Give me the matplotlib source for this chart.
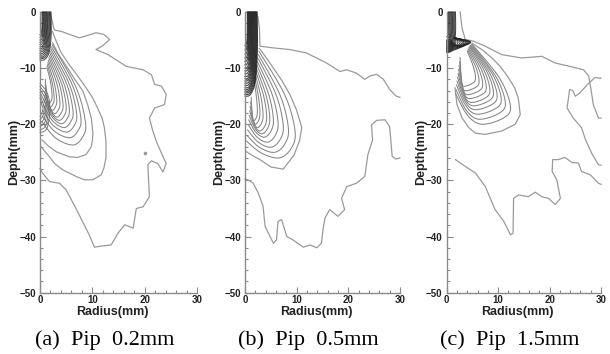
import numpy as np
import matplotlib
matplotlib.use("Agg")
import matplotlib.pyplot as plt
from matplotlib.ticker import MultipleLocator

# ---------------- data (radius in mm, depth in mm) ----------------
captions = ["(a)  Pip  0.2mm", "(b)  Pip  0.5mm", "(c)  Pip  1.5mm"]

# Panel (a): outermost contour
a_edge_r = [1.9, 2.3, 2.7, 4.2, 5.6, 7.5, 9.0, 10.7, 12.2, 13.3, 12.0, 10.7, 13.0, 16.5, 19.7,
            21.3, 21.9, 23.2, 24.1, 23.8, 21.9, 20.9, 21.5, 22.2, 22.9, 24.1, 23.5, 22.5, 21.3,
            20.6, 20.9, 19.7, 18.4, 17.8, 16.2, 14.9, 13.6, 11.7, 10.4, 9.4, 7.2, 5.0, 3.7, 1.8,
            0.5, 0.0]
a_edge_d = [0.0, -1.5, -3.2, -3.5, -4.0, -4.6, -4.2, -3.7, -4.0, -4.9, -6.0, -6.7, -7.6, -9.7,
            -10.3, -11.2, -12.9, -13.2, -14.7, -16.5, -17.1, -18.9, -21.0, -23.0, -24.5, -27.0,
            -28.5, -27.0, -26.5, -27.2, -32.9, -34.7, -35.0, -38.5, -37.9, -39.4, -41.5, -41.7,
            -41.9, -39.7, -35.6, -31.7, -30.5, -30.2, -28.7, -27.9]
a_spot_r = [20.1]
a_spot_d = [-25.2]
# Panel (a): two outer plume contours
a_p1_r = [2.4, 3.0, 4.0, 5.6, 7.2, 8.8, 10.0, 11.0, 11.9, 12.3, 12.6, 12.6, 12.2, 11.7, 10.1,
          8.5, 6.9, 4.3, 2.8, 1.8, 0.9, 0.2]
a_p1_d = [-3.5, -5.0, -7.2, -9.4, -11.4, -13.5, -15.2, -17.1, -19.0, -20.6, -23.0, -26.0, -27.8,
          -29.0, -29.9, -29.9, -29.3, -28.1, -27.0, -25.8, -24.8, -24.0]
a_p2_r = [2.4, 3.5, 5.0, 6.5, 8.2, 9.1, 9.8, 10.1, 10.0, 9.8, 8.8, 7.2, 5.6, 3.1, 1.5, 0.4]
a_p2_d = [-5.5, -7.5, -9.6, -11.8, -14.1, -16.5, -18.9, -21.5, -23.0, -24.0, -25.4, -25.9,
          -25.8, -24.9, -23.8, -22.8]
# Panel (a): inner plume contours (tip, widest radius, bottom depth, axis end)
a_in_right = [8.7, 7.8, 7.0, 6.3, 5.6, 5.0, 4.4, 3.8, 3.2, 2.7, 2.3]
a_in_bottom = [-23.7, -22.4, -21.4, -20.6, -19.9, -19.3, -18.7, -18.1, -17.5, -16.9, -16.3]
a_in_tip_r = [2.3, 2.2, 2.1, 2.0, 1.9, 1.8, 1.7, 1.6, 1.5, 1.4, 1.3]
a_in_tip_d = [-5.8, -6.2, -6.6, -7.0, -7.4, -7.8, -8.2, -8.6, -9.0, -9.4, -9.8]
a_in_end_r = [0.3, 0.4, 0.5, 0.6, 0.7, 0.8, 0.9, 1.0, 1.0, 1.0, 1.0]
a_in_end_d = [-19.5, -18.5, -17.5, -16.5, -15.5, -14.8, -14.2, -13.6, -13.0, -12.5, -12.0]
# Panel (a): near-tip contours and the lower cluster along the axis
a_cap_w = [2.1, 1.95, 1.8, 1.65, 1.5, 1.38, 1.25, 1.12, 1.0, 0.88, 0.75, 0.62, 0.5, 0.38]
a_cap_d = [-8.6, -8.3, -8.0, -7.7, -7.4, -7.1, -6.8, -6.5, -6.2, -5.8, -5.4, -5.0, -4.5, -4.0]
a_low_w = [1.9, 1.6, 1.35, 1.1, 0.85, 0.6]
a_low_top = [-12.8, -13.3, -13.8, -14.3, -14.8, -15.3]
a_low_bot = [-21.5, -21.0, -20.4, -19.8, -19.2, -18.6]

# Panel (b)
b_edge1_r = [1.9, 2.5, 2.8, 2.9, 5.5, 8.7, 11.9, 15.8, 18.4, 19.7, 21.6, 23.2, 24.2, 25.5,
             26.8, 28.0, 29.3, 30.0]
b_edge1_d = [0.0, -0.8, -3.0, -6.1, -6.4, -6.7, -7.3, -9.1, -10.6, -10.3, -10.9, -12.0, -11.4,
             -11.1, -12.0, -13.8, -15.0, -15.2]
b_edge2_r = [30.0, 29.2, 28.5, 28.3, 28.0, 27.1, 25.5, 24.5, 24.7, 23.8, 23.2, 21.6, 19.7, 18.7,
             19.3, 18.0, 16.4, 15.5, 15.1, 14.8, 13.9, 12.6, 11.3, 9.3, 8.1, 7.1, 6.4, 6.1, 5.5,
             3.9, 3.5, 2.6, 1.6, 0.6, 0.0]
b_edge2_d = [-26.0, -26.2, -25.7, -23.5, -20.4, -19.2, -19.3, -20.1, -22.8, -25.4, -29.3, -30.5,
             -31.1, -33.2, -35.2, -36.4, -35.2, -36.7, -38.8, -41.2, -42.0, -41.5, -41.9, -40.6,
             -40.0, -37.0, -37.3, -40.6, -41.2, -38.2, -34.6, -32.3, -30.5, -29.9, -29.8]
b_p1_r = [2.8, 4.0, 5.5, 7.2, 8.7, 10.0, 11.0, 10.6, 9.5, 7.4, 5.0, 2.9, 1.5, 0.3]
b_p1_d = [-6.5, -8.0, -10.0, -12.3, -14.7, -17.5, -20.6, -22.8, -25.5, -28.0, -27.6, -26.3,
          -25.6, -24.9]
b_in_right = [9.7, 8.4, 7.4, 6.4, 5.5, 4.8, 4.2, 3.5, 2.9, 2.4]
b_in_bottom = [-26.0, -25.0, -24.1, -23.2, -22.3, -21.7, -21.2, -20.6, -20.0, -19.4]
b_in_tip_r = [2.7, 2.6, 2.5, 2.4, 2.3, 2.2, 2.1, 2.0, 1.9, 1.8]
b_in_tip_d = [-7.0, -7.6, -8.2, -8.8, -9.4, -10.0, -10.6, -11.2, -11.8, -12.4]
b_in_end_r = [0.3, 0.4, 0.5, 0.6, 0.7, 0.8, 0.9, 1.0, 1.1, 1.2]
b_in_end_d = [-23.0, -22.0, -21.0, -20.0, -19.2, -18.4, -17.6, -16.8, -16.0, -15.2]
b_cap_w = [2.35, 2.25, 2.15, 2.05, 1.95, 1.85, 1.75, 1.65, 1.55, 1.45, 1.35, 1.25, 1.15, 1.05,
           0.95, 0.85, 0.75, 0.65, 0.55, 0.45]
b_cap_d = [-15.0, -14.7, -14.4, -14.1, -13.8, -13.5, -13.1, -12.7, -12.3, -11.9, -11.5, -11.0,
           -10.5, -10.0, -9.4, -8.8, -8.2, -7.5, -6.8, -6.0]

# Panel (c)
c_edge1_r = [2.6, 3.0, 3.6, 5.2, 7.5, 10.7, 14.6, 18.5, 21.1, 24.0, 26.6, 27.6, 28.0, 28.5,
             29.5, 30.0]
c_edge1_d = [0.0, -2.9, -4.9, -5.2, -6.1, -7.6, -8.2, -7.9, -9.1, -9.7, -10.3, -11.4, -13.5,
             -16.5, -18.9, -18.9]
c_edge2_r = [30.0, 28.8, 27.5, 25.9, 25.0, 24.5, 23.9, 23.4, 24.6, 26.2, 27.0, 28.2, 29.5, 30.0]
c_edge2_d = [-11.8, -11.7, -12.8, -14.4, -15.0, -14.0, -13.8, -17.1, -18.9, -20.6, -22.8,
             -25.2, -27.2, -27.3]
c_edge3_r = [1.7, 3.6, 5.6, 7.5, 9.4, 11.1, 12.4, 12.9, 13.0, 14.0, 15.9, 17.2, 18.5, 19.8,
             21.1, 22.1, 21.4, 20.5, 20.6, 21.7, 23.0, 24.3, 25.6, 26.2, 27.9, 29.5, 30.0]
c_edge3_d = [-26.3, -27.5, -28.7, -31.1, -35.2, -37.3, -39.7, -39.4, -33.2, -32.6, -32.9,
             -32.1, -32.9, -33.2, -34.3, -33.2, -29.9, -28.4, -26.3, -26.3, -25.9, -26.8,
             -26.9, -28.4, -29.0, -30.5, -30.7]
c_p1_r = [5.0, 7.0, 8.8, 10.5, 12.0, 13.2, 13.9, 14.3, 13.3, 10.7, 7.5, 5.6, 4.3, 3.0, 2.0, 1.6]
c_p1_d = [-5.6, -6.8, -8.2, -9.8, -11.7, -13.5, -15.3, -18.3, -20.0, -21.2, -21.8, -21.6,
          -20.6, -18.9, -16.5, -13.5]
c_in_right = [12.4, 11.4, 10.6, 9.8, 9.1, 8.4, 7.7, 7.0, 6.3, 5.6]
c_in_bottom = [-20.0, -19.1, -18.2, -17.4, -16.7, -16.1, -15.4, -14.7, -14.0, -13.2]
c_in_tip_r = [4.9, 4.8, 4.7, 4.6, 4.5, 4.4, 4.3, 4.2, 4.1, 4.0]
c_in_tip_d = [-5.7, -5.8, -5.9, -6.0, -6.1, -6.2, -6.4, -6.6, -6.8, -7.0]
c_in_end_r = [1.7, 1.8, 1.9, 2.0, 2.1, 2.2, 2.3, 2.4, 2.5, 2.6]
c_in_end_d = [-14.5, -13.8, -13.0, -12.3, -11.6, -10.9, -10.2, -9.5, -8.8, -8.1]
c_cap_w = [1.7, 1.55, 1.4, 1.25, 1.1, 0.95, 0.8, 0.65, 0.5, 0.35]
c_cap_d = [-7.2, -7.0, -6.8, -6.6, -6.4, -6.2, -5.9, -5.5, -5.0, -4.4]
c_band_r = [4.6, 4.45, 4.3, 4.1, 3.9, 3.6, 3.3, 3.0, 2.6, 2.2, 1.8]
c_band_d = [-7.1, -6.9, -6.7, -6.5, -6.3, -6.1, -5.9, -5.7, -5.5, -5.3, -5.1]

x_ticks = [0, 10, 20, 30]
y_ticks = [0, -10, -20, -30, -40, -50]

# ---------------- drawing helpers ----------------
LINE = "#9a9a9a"
INNER = "#858585"
CORE = "#262626"


def smooth(pts, n=10):
    """Catmull-Rom curve through the given control points."""
    p = np.asarray(pts, float)
    p = np.vstack([p[0], p, p[-1]])
    t = np.linspace(0, 1, n, endpoint=False)[:, None]
    segs = []
    for i in range(1, len(p) - 2):
        p0, p1, p2, p3 = p[i - 1], p[i], p[i + 1], p[i + 2]
        segs.append(0.5 * (2 * p1 + (-p0 + p2) * t + (2 * p0 - 5 * p1 + 4 * p2 - p3) * t ** 2
                           + (-p0 + 3 * p1 - 3 * p2 + p3) * t ** 3))
    segs.append(p[-2][None, :])
    return np.vstack(segs)


def plume(ax, tip_r, tip_d, right, bottom, end_r, end_d, bx, fr):
    for xt, yt, xr, yb, xl, yl in zip(tip_r, tip_d, right, bottom, end_r, end_d):
        yr = yb + fr * (yt - yb)
        xb = bx * xr
        pts = [(xt, yt),
               (xt + 0.72 * (xr - xt), yt + 0.55 * (yr - yt)),
               (xr, yr),
               (xb + 0.75 * (xr - xb), yb + 0.35 * (yr - yb)),
               (xb, yb),
               (xl + 0.45 * (xb - xl), yb + 0.3 * (yl - yb)),
               (xl, yl)]
        c = smooth(pts)
        ax.plot(c[:, 0], c[:, 1], color=INNER, lw=0.75, solid_capstyle="round")


def caps(ax, widths, depths, lw=0.7):
    for w, d in zip(widths, depths):
        c = smooth([(w, 0), (1.02 * w, 0.45 * d), (0.85 * w, 0.82 * d), (0.45 * w, 0.98 * d), (0.0, d)])
        ax.plot(c[:, 0], c[:, 1], color=CORE, lw=lw, alpha=0.85)


def side_loops(ax, widths, tops, bots):
    for w, t, b in zip(widths, tops, bots):
        m = 0.5 * (t + b)
        c = smooth([(0.0, t), (0.7 * w, t - 1.5), (w, m), (0.7 * w, b + 0.8), (0.0, b)])
        ax.plot(c[:, 0], c[:, 1], color="#707070", lw=0.7, alpha=0.9)


def bands(ax, reach, depths):
    for r, d in zip(reach, depths):
        c = smooth([(1.5, -4.6), (r, -5.3), (0.75 * r, -6.0), (0.8, d + 0.1), (0.0, d)])
        ax.plot(c[:, 0], c[:, 1], color=CORE, lw=0.8, alpha=0.85)


def edge(ax, r, d):
    ax.plot(r, d, color=LINE, lw=0.9)


def style(ax, caption):
    ax.set_xlim(0, 30)
    ax.set_ylim(-50, 0)
    for s in ("top", "right"):
        ax.spines[s].set_visible(False)
    for s in ("left", "bottom"):
        ax.spines[s].set_color("#8a8a8a")
        ax.spines[s].set_linewidth(1.0)
    ax.set_xticks(x_ticks)
    ax.set_yticks(y_ticks)
    ax.xaxis.set_minor_locator(MultipleLocator(2))
    ax.yaxis.set_minor_locator(MultipleLocator(2))
    ax.tick_params(which="both", direction="in", color="#8a8a8a", width=0.8)
    ax.tick_params(which="major", length=4)
    ax.tick_params(which="minor", length=2)
    ax.tick_params(axis="x", pad=1.5)
    ax.tick_params(axis="y", pad=3)
    for lab in ax.get_xticklabels() + ax.get_yticklabels():
        lab.set_fontsize(7)
        lab.set_fontweight("bold")
        lab.set_color("#222222")
        lab.set_family("Liberation Sans")
    ax.text(-0.165, 0.5, "Depth(mm)", rotation=90, ha="center", va="center",
            transform=ax.transAxes, fontsize=9, fontweight="bold",
            family="Liberation Sans", color="#222222")
    ax.text(0.46, -0.068, "Radius(mm)", ha="center", va="center",
            transform=ax.transAxes, fontsize=9, fontweight="bold",
            family="Liberation Sans", color="#222222")
    ax.text(0.41, -0.168, caption, ha="center", va="center",
            transform=ax.transAxes, fontsize=16, family="Liberation Serif", color="black")


fig = plt.figure(figsize=(6.10, 3.54), dpi=100)
boxes = [(0.0656, 0.1732, 0.2574, 0.793),
         (0.4016, 0.1732, 0.2540, 0.793),
         (0.7323, 0.1732, 0.2530, 0.793)]
axes = [fig.add_axes(b) for b in boxes]

# (a)
ax = axes[0]
edge(ax, a_edge_r, a_edge_d)
ax.plot(a_spot_r, a_spot_d, "o", ms=1.6, color=LINE)
edge(ax, a_p1_r, a_p1_d)
edge(ax, a_p2_r, a_p2_d)
plume(ax, a_in_tip_r, a_in_tip_d, a_in_right, a_in_bottom, a_in_end_r, a_in_end_d, 0.72, 0.22)
side_loops(ax, a_low_w, a_low_top, a_low_bot)
caps(ax, a_cap_w, a_cap_d)

# (b)
ax = axes[1]
edge(ax, b_edge1_r, b_edge1_d)
edge(ax, b_edge2_r, b_edge2_d)
edge(ax, b_p1_r, b_p1_d)
plume(ax, b_in_tip_r, b_in_tip_d, b_in_right, b_in_bottom, b_in_end_r, b_in_end_d, 0.68, 0.25)
caps(ax, b_cap_w, b_cap_d, lw=0.8)

# (c)
ax = axes[2]
edge(ax, c_edge1_r, c_edge1_d)
edge(ax, c_edge2_r, c_edge2_d)
edge(ax, c_edge3_r, c_edge3_d)
edge(ax, c_p1_r, c_p1_d)
plume(ax, c_in_tip_r, c_in_tip_d, c_in_right, c_in_bottom, c_in_end_r, c_in_end_d, 0.55, 0.22)
caps(ax, c_cap_w, c_cap_d)
bands(ax, c_band_r, c_band_d)

for ax, cap in zip(axes, captions):
    style(ax, cap)
    for line in ax.lines:
        line.set_clip_on(False)

fig.savefig("out.png", dpi=100)
